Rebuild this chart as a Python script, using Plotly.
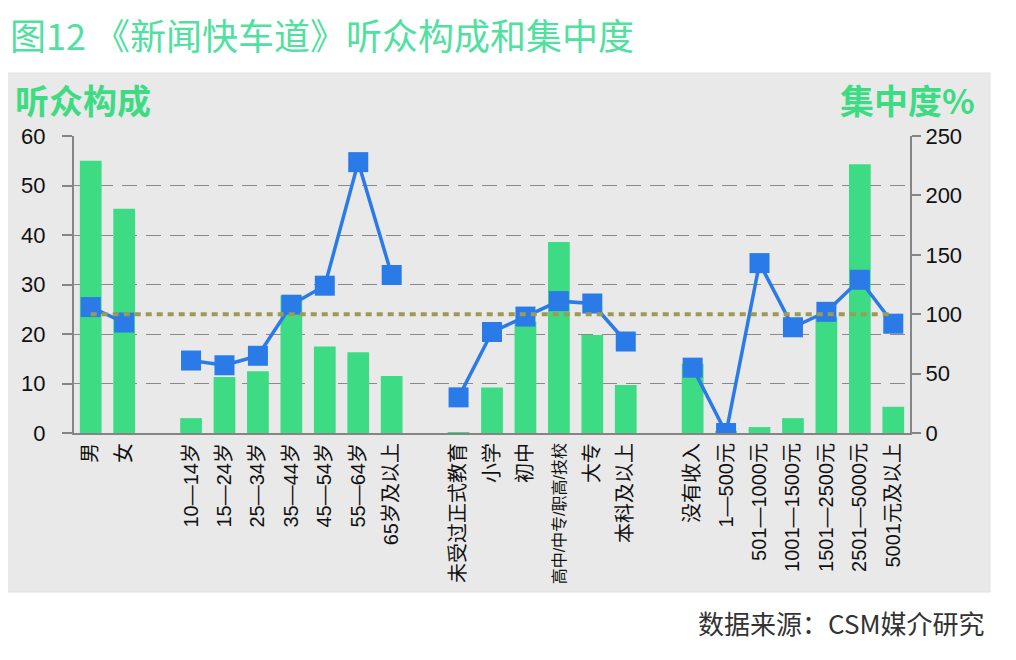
import plotly.graph_objects as go

# ---------------- data ----------------
gender_labels = ["男", "女"]
gender_share = [55.0, 45.3]
gender_conc = [106, 93]

age_labels = ["10—14岁", "15—24岁", "25—34岁", "35—44岁", "45—54岁", "55—64岁", "65岁及以上"]
age_share = [3.0, 11.3, 12.5, 27.8, 17.5, 16.3, 11.5]
age_conc = [61, 57, 65, 108, 124, 228, 133]

edu_labels = ["未受过正式教育", "小学", "初中", "高中/中专/职高/技校", "大专", "本科及以上"]
edu_share = [0.2, 9.2, 22.5, 38.6, 19.8, 9.7]
edu_conc = [30, 85, 98, 111, 109, 77]

inc_labels = ["没有收入", "1—500元", "501—1000元", "1001—1500元", "1501—2500元", "2501—5000元", "5001元及以上"]
inc_share = [14.0, 0.3, 1.2, 3.0, 23.5, 54.3, 5.3]
inc_conc = [55, 0, 143, 89, 102, 129, 92]

baseline = 100  # 集中度基准线

groups = [
    (gender_labels, gender_share, gender_conc),
    (age_labels, age_share, age_conc),
    (edu_labels, edu_share, edu_conc),
    (inc_labels, inc_share, inc_conc),
]

labels, share, conc = [], [], []
for gi, (lab, sh, co) in enumerate(groups):
    if gi > 0:
        labels.append("")
        share.append(None)
        conc.append(None)
    labels += lab
    share += sh
    conc += co
xs = list(range(len(labels)))
# the slash-separated label is set condensed in the original
tick_text = [f'<span style="font-size:16px">{t}</span>' if "/" in t else t for t in labels]

GREEN = "#3ddc84"
BLUE = "#2a7ae8"
FONT = "Liberation Sans, Noto Sans CJK SC, sans-serif"
CJK = "Noto Sans CJK SC, sans-serif"

fig = go.Figure()
fig.add_trace(go.Bar(x=xs, y=share, marker=dict(color=GREEN, line=dict(width=0)),
                     width=0.65, yaxis="y", showlegend=False))
fig.add_trace(go.Scatter(x=xs, y=conc, yaxis="y2", mode="lines+markers",
                         line=dict(color=BLUE, width=3.5),
                         marker=dict(symbol="square", size=20, color=BLUE),
                         connectgaps=False, showlegend=False))
fig.add_trace(go.Scatter(x=[xs[0], xs[-1]], y=[baseline, baseline], yaxis="y2", mode="lines",
                         line=dict(color="#9c9a55", width=4, dash="6px,5px"),
                         showlegend=False))

OFF = 8  # page body margin
W, H = 1016 - 2 * OFF, 660 - 2 * OFF
PL, PR, PT, PB = 74, 910, 136, 433  # plot area in screenshot pixels
L, T = PL - OFF, PT - OFF
pw, ph = PR - PL, PB - PT
R, B = W - L - pw, H - T - ph


def px_x(p):
    return (p - PL) / pw


def px_y(p):
    return (PB - p) / ph


fig.update_layout(
    width=W, height=H,
    margin=dict(l=L, r=R, t=T, b=B),
    paper_bgcolor="white",
    plot_bgcolor="rgba(0,0,0,0)",
    font=dict(family=FONT, color="#111"),
    xaxis=dict(
        range=[-0.5, len(labels) - 0.5],
        tickvals=xs, ticktext=tick_text, tickangle=-90,
        tickfont=dict(size=20, color="#111", family=FONT),
        showline=True, linecolor="#858585", linewidth=2,
        ticks="", showgrid=False, zeroline=False,
    ),
    yaxis=dict(
        range=[0, 60], dtick=10,
        tickfont=dict(size=22, color="#111"),
        showline=True, linecolor="#858585", linewidth=2,
        ticks="outside", ticklen=10, tickcolor="#858585", tickwidth=1.5,
        ticklabelstandoff=12,
        showgrid=True, gridcolor="#8a8a8a", gridwidth=1, griddash="15px,9px",
        zeroline=False,
    ),
    yaxis2=dict(
        range=[0, 250], dtick=50, overlaying="y", side="right",
        tickfont=dict(size=22, color="#111"),
        showline=True, linecolor="#858585", linewidth=2,
        ticks="outside", ticklen=9, tickcolor="#858585", tickwidth=1.5,
        showgrid=False, zeroline=False,
    ),
    shapes=[
        dict(type="rect", xref="paper", yref="paper", layer="below",
             x0=px_x(7), x1=px_x(990), y0=px_y(592), y1=px_y(73),
             fillcolor="#e9e9e9", line=dict(color="#e2e2e2", width=1)),
    ],
    annotations=[
        dict(text="图12 《新闻快车道》听众构成和集中度", xref="paper", yref="paper",
             x=px_x(8), y=px_y(34), xanchor="left", yanchor="middle", showarrow=False,
             font=dict(size=36, color="#50e0a0", family=CJK)),
        dict(text="<b>听众构成</b>", xref="paper", yref="paper",
             x=px_x(13), y=px_y(99), xanchor="left", yanchor="middle", showarrow=False,
             font=dict(size=34, color=GREEN, family=CJK)),
        dict(text="<b>集中度%</b>", xref="paper", yref="paper",
             x=px_x(977), y=px_y(99), xanchor="right", yanchor="middle", showarrow=False,
             font=dict(size=34, color=GREEN, family=CJK)),
        dict(text="数据来源：CSM媒介研究", xref="paper", yref="paper",
             x=px_x(987), y=px_y(622), xanchor="right", yanchor="middle", showarrow=False,
             font=dict(size=26, color="#333", family=CJK)),
    ],
)

fig.write_html("out.html")
